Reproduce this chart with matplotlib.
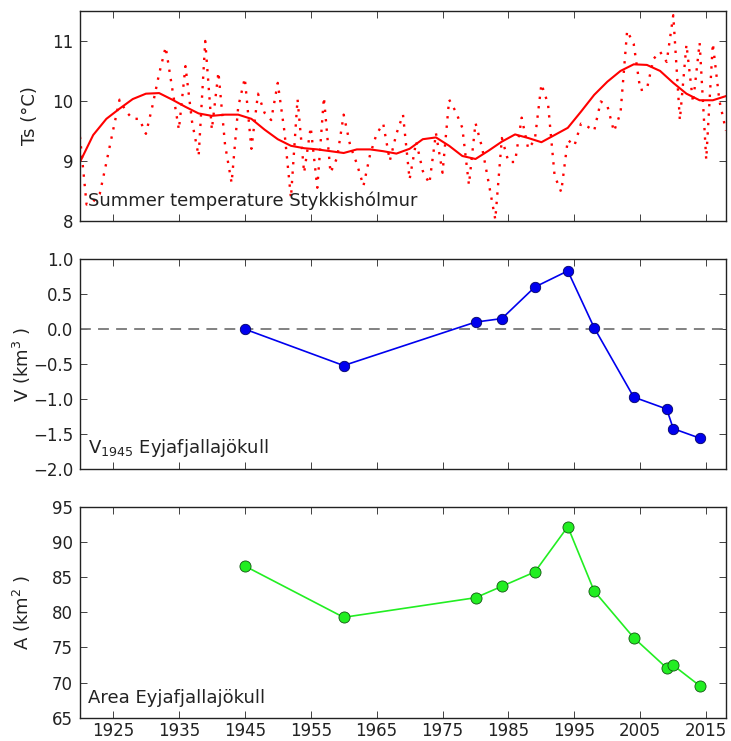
import matplotlib
matplotlib.use('Agg')
import matplotlib.pyplot as plt

# ---------------- data ----------------
ts_years = list(range(1920, 2019))
ts_summer = [9.40, 8.27, 8.32, 8.45, 8.97, 9.50, 10.02, 9.82, 9.70, 9.70,
             9.45, 9.92, 10.45, 10.90, 10.20, 9.52, 10.58, 9.65, 9.08, 11.00,
             9.52, 10.48, 9.27, 8.63, 9.90, 10.38, 9.20, 10.12, 9.80, 9.68,
             10.30, 9.50, 8.38, 10.03, 8.80, 9.56, 8.55, 10.06, 8.80, 9.05,
             9.77, 9.25, 8.95, 8.58, 9.10, 9.45, 9.62, 9.00, 9.45, 9.77,
             8.69, 9.32, 8.83, 8.62, 9.46, 8.80, 10.02, 9.82, 9.55, 8.60,
             9.63, 9.22, 8.63, 8.02, 9.38, 8.98, 8.98, 9.72, 9.20, 9.35,
             10.28, 9.95, 8.75, 8.48, 9.35, 9.25, 9.62, 9.57, 9.50, 9.99,
             9.92, 9.49, 9.80, 11.17, 10.95, 10.18, 10.20, 10.70, 10.82, 10.65,
             11.43, 9.68, 10.94, 9.97, 10.97, 9.02, 10.96, 10.00, 9.50]

smooth_years = [1920, 1922, 1924, 1926, 1928, 1930, 1932, 1934, 1936, 1938,
                1940, 1942, 1944, 1946, 1948, 1950, 1952, 1954, 1956, 1958,
                1960, 1962, 1964, 1966, 1968, 1970, 1972, 1974, 1976, 1978,
                1980, 1982, 1984, 1986, 1988, 1990, 1992, 1994, 1996, 1998,
                2000, 2002, 2004, 2006, 2008, 2010, 2012, 2014, 2016, 2018]
smooth_ts = [8.98, 9.43, 9.70, 9.87, 10.03, 10.12, 10.13, 10.02, 9.90, 9.79,
             9.75, 9.77, 9.77, 9.70, 9.52, 9.36, 9.25, 9.21, 9.19, 9.16,
             9.13, 9.19, 9.19, 9.16, 9.12, 9.20, 9.36, 9.39, 9.25, 9.08,
             9.03, 9.17, 9.32, 9.44, 9.38, 9.31, 9.43, 9.55, 9.82, 10.10,
             10.32, 10.50, 10.61, 10.60, 10.50, 10.30, 10.12, 10.01, 10.01, 10.08]

survey_years = [1945, 1960, 1980, 1984, 1989, 1994, 1998, 2004, 2009, 2010, 2014]
volume_change = [0.0, -0.52, 0.10, 0.15, 0.60, 0.83, 0.02, -0.97, -1.14, -1.42, -1.555]
area_km2 = [86.57, 79.27, 82.06, 83.68, 85.72, 92.16, 83.01, 76.37, 72.07, 72.45, 69.55]

x_ticks = [1925, 1935, 1945, 1955, 1965, 1975, 1985, 1995, 2005, 2015]
ts_ticks = [8, 9, 10, 11]
v_ticks = [-2.0, -1.5, -1.0, -0.5, 0.0, 0.5, 1.0]
a_ticks = [65, 70, 75, 80, 85, 90, 95]

# ---------------- style ----------------
plt.rcParams.update({
    'font.family': ['DejaVu Sans'],
    'font.size': 12,
    'xtick.direction': 'in',
    'ytick.direction': 'in',
    'xtick.top': True,
    'ytick.right': True,
    'xtick.major.size': 5,
    'ytick.major.size': 5,
    'xtick.major.width': 0.6,
    'ytick.major.width': 0.6,
    'xtick.major.pad': 3,
    'ytick.major.pad': 5,
    'axes.linewidth': 1.0,
    'axes.edgecolor': '#222222',
    'xtick.color': '#222222',
    'ytick.color': '#222222',
    'text.color': '#222222',
    'axes.labelcolor': '#222222',
})

W, H = 731, 741
fig = plt.figure(figsize=(W / 100, H / 100), dpi=100)
fig.patch.set_facecolor('white')

left = 80 / W
width = (726 - 80) / W

def axes_at(top_px, bottom_px):
    return fig.add_axes([left, 1 - bottom_px / H, width, (bottom_px - top_px) / H])

ax1 = axes_at(11, 220.7)
ax2 = axes_at(259, 469.3)
ax3 = axes_at(506.7, 717.7)

xlim = (1920, 2018)

# ---- top panel: summer temperature ----
ax1.plot(ts_years, ts_summer, color='red', linestyle=(0, (1, 3)), lw=1.7)
ax1.plot(smooth_years, smooth_ts, color='red', lw=1.5)
ax1.set_xlim(*xlim)
ax1.set_ylim(8, 11.5)
ax1.set_yticks(ts_ticks)
ax1.set_xticks(x_ticks)
ax1.set_xticklabels([])
ax1.set_ylabel('Ts (°C)', fontsize=13)
ax1.yaxis.set_label_coords(-0.064, 0.5)
ax1.text(0.012, 0.05, 'Summer temperature Stykkishólmur', transform=ax1.transAxes,
         fontsize=13, ha='left', va='bottom')

# ---- middle panel: volume change ----
ax2.axhline(0, color='#777777', lw=1.3, linestyle=(0, (6, 4)))
ax2.plot(survey_years, volume_change, color='#0000ee', lw=1.2, marker='o',
         markersize=7.5, markerfacecolor='#0000ee', markeredgecolor='#000066',
         markeredgewidth=0.6)
ax2.set_xlim(*xlim)
ax2.set_ylim(-2.0, 1.0)
ax2.set_yticks(v_ticks)
ax2.set_yticklabels([f'{v:.1f}'.replace('-', '\u2212') for v in v_ticks])
ax2.set_xticks(x_ticks)
ax2.set_xticklabels([])
ax2.set_ylabel('V (km$^3$ )', fontsize=13)
ax2.yaxis.set_label_coords(-0.073, 0.5)
ax2.text(0.012, 0.05, r'V$_{1945}$ Eyjafjallajökull', transform=ax2.transAxes,
         fontsize=13, ha='left', va='bottom')

# ---- bottom panel: area ----
ax3.plot(survey_years, area_km2, color='#22ee22', lw=1.2, marker='o',
         markersize=8, markerfacecolor='#22ee22', markeredgecolor='#115511',
         markeredgewidth=0.6)
ax3.set_xlim(*xlim)
ax3.set_ylim(65, 95)
ax3.set_yticks(a_ticks)
ax3.set_xticks(x_ticks)
ax3.set_xticklabels([str(t) for t in x_ticks])
ax3.set_ylabel('A (km$^2$ )', fontsize=13)
ax3.yaxis.set_label_coords(-0.073, 0.5)
ax3.text(0.012, 0.05, 'Area Eyjafjallajökull', transform=ax3.transAxes,
         fontsize=13, ha='left', va='bottom')

fig.savefig('out.png', dpi=100, facecolor='white')
